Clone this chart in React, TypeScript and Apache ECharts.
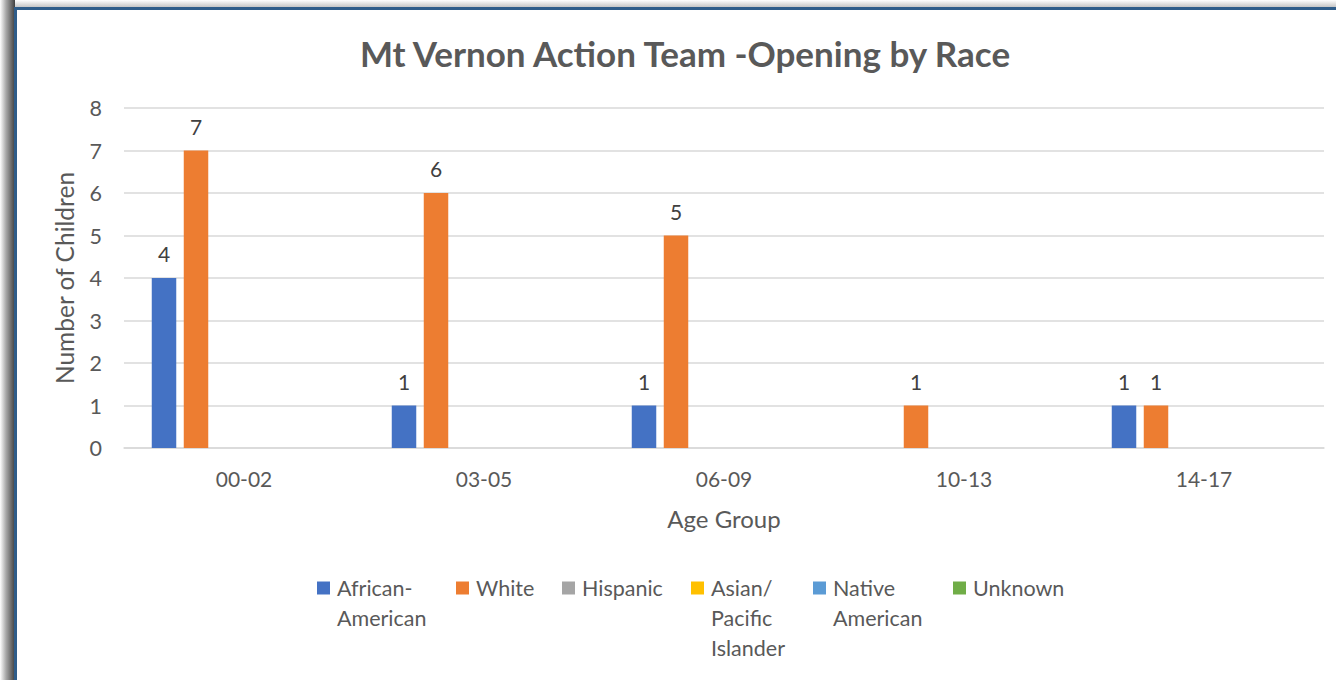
import React, { useEffect, useRef } from "react";
import * as echarts from "echarts";

const categories = ["00-02", "03-05", "06-09", "10-13", "14-17"];
const seriesNames = [
  "African-American",
  "White",
  "Hispanic",
  "Asian/Pacific Islander",
  "Native American",
  "Unknown",
];
const legendLines = [
  ["African-", "American"],
  ["White"],
  ["Hispanic"],
  ["Asian/", "Pacific", "Islander"],
  ["Native", "American"],
  ["Unknown"],
];
const africanAmerican = [4, 1, 1, 0, 1];
const white = [7, 6, 5, 1, 1];
const hispanic = [0, 0, 0, 0, 0];
const asianPacific = [0, 0, 0, 0, 0];
const nativeAmerican = [0, 0, 0, 0, 0];
const unknown = [0, 0, 0, 0, 0];
const seriesValues = [africanAmerican, white, hispanic, asianPacific, nativeAmerican, unknown];
const colors = ["#4472C4", "#ED7D31", "#A5A5A5", "#FFC000", "#5B9BD5", "#70AD47"];
const yTicks = [0, 1, 2, 3, 4, 5, 6, 7, 8];

const legendLeft = [317, 456, 562, 691, 813, 953];

const FONT = "Lato, 'Noto Sans', sans-serif";

export default function App() {
  const ref = useRef<HTMLDivElement>(null);
  useEffect(() => {
    if (!ref.current) return;
    const chart = echarts.init(ref.current, undefined, { renderer: "svg" });
    const L = 30;
    const LEGEND_Y = 588;
    const LEGEND_FS = 21.5;
    const legends = seriesNames.map((name, i) => ({
      data: [name],
      left: legendLeft[i],
      top: LEGEND_Y - L / 2,
      padding: 0,
      itemWidth: 13,
      itemHeight: 13,
      icon: "rect",
      selectedMode: false,
      formatter: () => legendLines[i][0],
      textStyle: {
        fontFamily: FONT,
        fontSize: LEGEND_FS,
        color: "#595959",
        lineHeight: L,
        padding: [0, 0, 0, 2],
      },
    }));
    const extraLegendTexts: any[] = [];
    legendLines.forEach((lines, i) => {
      lines.slice(1).forEach((t, k) => {
        extraLegendTexts.push({
          type: "text",
          x: legendLeft[i] + 13 + 5 + 2,
          y: LEGEND_Y + (k + 1) * L,
          style: {
            text: t,
            fontFamily: FONT,
            fontSize: LEGEND_FS,
            fill: "#595959",
            verticalAlign: "middle",
            align: "left",
          },
          z: 5,
        });
      });
    });
    chart.setOption({
      animation: false,
      color: colors,
      textStyle: { fontFamily: FONT },
      title: {
        text: "Mt Vernon Action Team -Opening by Race",
        left: 680,
        textAlign: "center",
        top: 30,
        textStyle: { fontFamily: FONT, fontSize: 35, fontWeight: "bold", color: "#595959" },
      },
      graphic: [
        {
          type: "rect",
          shape: { x: 0, y: 0, width: 15, height: 680 },
          style: {
            fill: new echarts.graphic.LinearGradient(0, 0, 1, 0, [
              { offset: 0, color: "#ffffff" },
              { offset: 0.4, color: "#a8a8a8" },
              { offset: 1, color: "#404040" },
            ]),
          },
          z: 0,
        },
        {
          type: "rect",
          shape: { x: 15, y: 0, width: 1321, height: 8 },
          style: {
            fill: new echarts.graphic.LinearGradient(0, 0, 0, 1, [
              { offset: 0, color: "#ffffff" },
              { offset: 1, color: "#bdbdbd" },
            ]),
          },
          z: 0,
        },
        {
          type: "rect",
          shape: { x: 14, y: 7, width: 3, height: 673 },
          style: { fill: "#2f5d8a" },
          z: 1,
        },
        {
          type: "rect",
          shape: { x: 14, y: 7, width: 1322, height: 3 },
          style: { fill: "#2f5d8a" },
          z: 1,
        },
        ...extraLegendTexts,
      ],
      legend: legends,
      grid: { left: 124, right: 12, top: 108, bottom: 232, containLabel: false },
      xAxis: {
        type: "category",
        data: categories,
        name: "Age Group",
        nameLocation: "middle",
        nameGap: 58,
        nameTextStyle: { fontFamily: FONT, fontSize: 24, color: "#595959" },
        axisLine: { lineStyle: { color: "#d9d9d9", width: 1.5 } },
        axisTick: { show: false },
        axisLabel: { fontFamily: FONT, fontSize: 21, color: "#595959", margin: 20 },
      },
      yAxis: {
        type: "value",
        min: 0,
        max: 8,
        interval: 1,
        name: "Number of Children",
        nameLocation: "middle",
        nameRotate: 90,
        nameGap: 47,
        nameTextStyle: { fontFamily: FONT, fontSize: 24.5, color: "#595959" },
        axisLine: { show: false },
        axisTick: { show: false },
        axisLabel: {
          fontFamily: FONT,
          fontSize: 21.5,
          color: "#595959",
          margin: 22,
          formatter: (v: number) => (yTicks.includes(v) ? String(v) : ""),
        },
        splitLine: { lineStyle: { color: "#d9d9d9", width: 1.5 } },
      },
      series: seriesNames.map((name, i) => ({
        name,
        type: "bar",
        data: seriesValues[i],
        barWidth: 24.5,
        barGap: "30.6%",
        itemStyle: { color: colors[i] },
        label: {
          show: true,
          position: "top",
          distance: 14,
          fontFamily: FONT,
          fontSize: 21,
          color: "#404040",
          formatter: (p: any) => (p.value ? String(p.value) : ""),
        },
      })),
    });
    return () => chart.dispose();
  }, []);
  return (
    <div
      ref={ref}
      style={{ position: "absolute", left: 0, top: 0, width: 1336, height: 680, background: "#fff" }}
    />
  );
}
